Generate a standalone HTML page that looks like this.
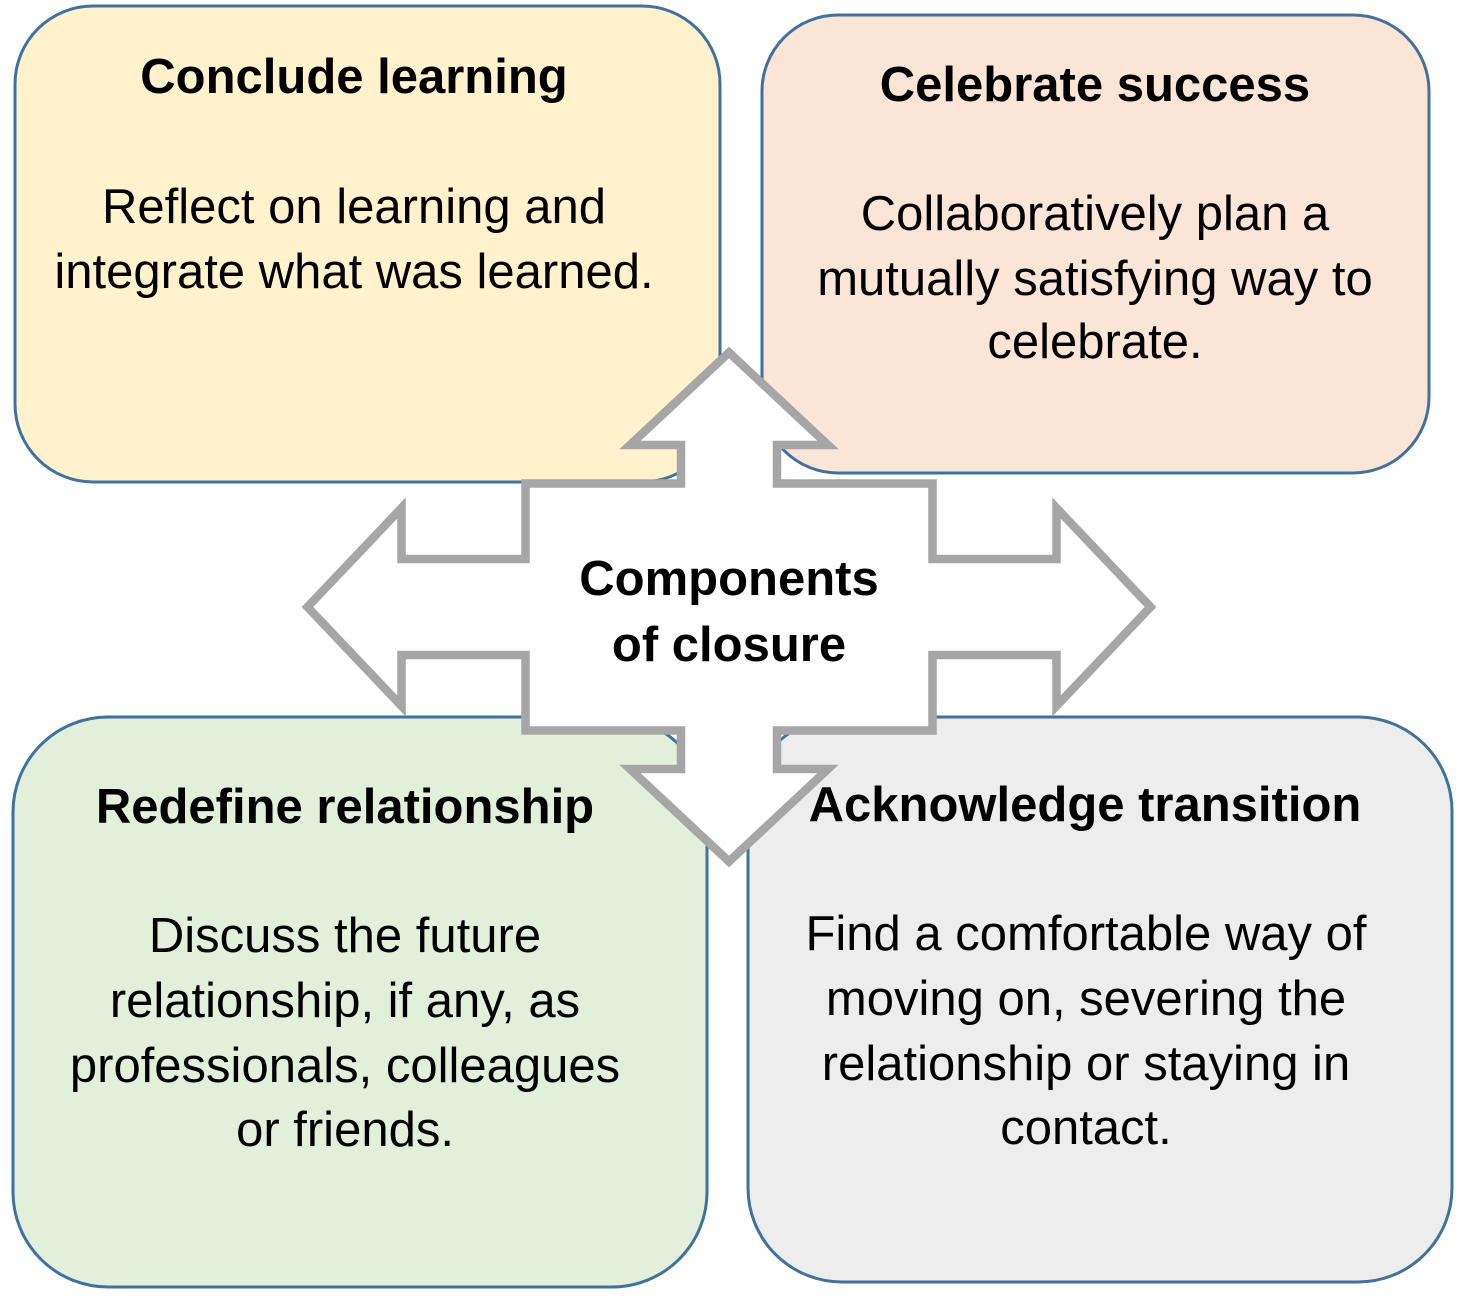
<!DOCTYPE html>
<html>
<head>
<meta charset="utf-8">
<style>
  html, body { margin: 0; padding: 0; background: #ffffff; }
  svg { display: block; }
  .t { font-family: "Liberation Sans", Arial, sans-serif; font-size: 49px; fill: #000; }
  .b { font-weight: bold; }
  .c { font-family: "Liberation Sans", Arial, sans-serif; font-size: 49px; font-weight: bold; fill: #000; }
</style>
</head>
<body>
<svg width="1470" height="1308" viewBox="0 0 1470 1308" xmlns="http://www.w3.org/2000/svg">
  <rect x="0" y="0" width="1470" height="1308" fill="#ffffff"/>

  <!-- Boxes -->
  <rect x="15" y="6" width="705" height="476" rx="78" ry="78" fill="#fff2cc" stroke="#41719c" stroke-width="3"/>
  <rect x="762" y="15" width="667" height="458" rx="76" ry="76" fill="#fbe5d6" stroke="#41719c" stroke-width="3"/>
  <rect x="13" y="717" width="694" height="570" rx="95" ry="95" fill="#e2efda" stroke="#41719c" stroke-width="3"/>
  <rect x="748" y="717" width="704" height="565" rx="94" ry="94" fill="#ededed" stroke="#41719c" stroke-width="3"/>

  <!-- Box 1 text -->
  <text class="t b" x="354" y="93" text-anchor="middle">Conclude learning</text>
  <text class="t" x="354" y="223" text-anchor="middle">Reflect on learning and</text>
  <text class="t" x="354" y="288" text-anchor="middle">integrate what was learned.</text>

  <!-- Box 2 text -->
  <text class="t b" x="1095" y="101" text-anchor="middle">Celebrate success</text>
  <text class="t" x="1095" y="230" text-anchor="middle">Collaboratively plan a</text>
  <text class="t" x="1095" y="295" text-anchor="middle">mutually satisfying way to</text>
  <text class="t" x="1095" y="358" text-anchor="middle">celebrate.</text>

  <!-- Box 3 text -->
  <text class="t b" x="345" y="823" text-anchor="middle">Redefine relationship</text>
  <text class="t" x="345" y="952" text-anchor="middle">Discuss the future</text>
  <text class="t" x="345" y="1017" text-anchor="middle">relationship, if any, as</text>
  <text class="t" x="345" y="1082" text-anchor="middle">professionals, colleagues</text>
  <text class="t" x="345" y="1146" text-anchor="middle">or friends.</text>

  <!-- Box 4 text -->
  <text class="t b" x="1085" y="821" text-anchor="middle">Acknowledge transition</text>
  <text class="t" x="1086" y="950" text-anchor="middle">Find a comfortable way of</text>
  <text class="t" x="1086" y="1015" text-anchor="middle">moving on, severing the</text>
  <text class="t" x="1086" y="1080" text-anchor="middle">relationship or staying in</text>
  <text class="t" x="1086" y="1144" text-anchor="middle">contact.</text>

  <!-- Central four-way arrow -->
  <path d="M 729 352.5
           L 828 445 L 777 445 L 777 483.5
           L 932.5 483.5 L 932.5 559 L 1056.5 559 L 1056.5 508
           L 1150.5 607
           L 1056.5 706 L 1056.5 655 L 932.5 655 L 932.5 730.5
           L 777 730.5 L 777 769 L 828 769
           L 729 861.5
           L 630 769 L 681 769 L 681 730.5
           L 525.5 730.5 L 525.5 655 L 401.5 655 L 401.5 706
           L 307.5 607
           L 401.5 508 L 401.5 559 L 525.5 559 L 525.5 483.5
           L 681 483.5 L 681 445 L 630 445 Z"
        fill="#ffffff" stroke="#a6a6a6" stroke-width="8.5" stroke-linejoin="miter" stroke-miterlimit="10"/>

  <text class="c" x="729" y="595" text-anchor="middle">Components</text>
  <text class="c" x="729" y="661" text-anchor="middle">of closure</text>
</svg>
</body>
</html>
